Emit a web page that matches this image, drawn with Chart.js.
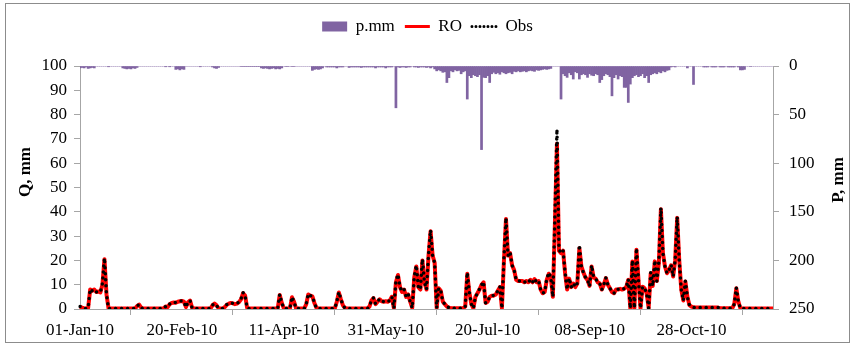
<!DOCTYPE html>
<html>
<head>
<meta charset="utf-8">
<script src="https://cdn.jsdelivr.net/npm/chart.js@4.4.1/dist/chart.umd.min.js"></script>
<style>
  html, body { margin: 0; padding: 0; background: #fff; }
</style>
</head>
<body>
<canvas id="chart" width="855" height="345"></canvas>
<script>
// daily series, 01-Jan-10 .. 07-Dec-10 (341 days)
const startDate = new Date(2010, 0, 1);
const dayCount = 341;
const tickLabels = ["01-Jan-10", "20-Feb-10", "11-Apr-10", "31-May-10", "20-Jul-10", "08-Sep-10", "28-Oct-10"];

// simulated runoff (mm)
const ro = [
  1, 0.5, 0.3, 0.2, 0.5, 8, 7.5, 8, 7, 7.2,
  6.8, 10, 20.5, 6, 0.3, 0.2, 0.2, 0.2, 0.2, 0.2,
  0.2, 0.2, 0.2, 0.2, 0.2, 0.2, 0.2, 0.2, 1.2, 1.8,
  0.6, 0.2, 0.2, 0.2, 0.2, 0.2, 0.2, 0.2, 0.2, 0.2,
  0.2, 0.2, 1, 0.8, 2, 2.5, 2.7, 2.6, 3, 3.2,
  3.3, 3, 0.8, 2.8, 3.5, 0.5, 0.2, 0.2, 0.2, 0.2,
  0.2, 0.2, 0.2, 0.2, 0.2, 1.5, 2.2, 1.5, 0.3, 0.2,
  0.2, 0.8, 1.7, 2.2, 2.5, 2.3, 2, 2.2, 2.8, 4,
  6.5, 5.5, 0.5, 0.2, 0.2, 0.2, 0.2, 0.2, 0.2, 0.2,
  0.2, 0.2, 0.2, 0.2, 0.2, 0.2, 0.2, 0.2, 5.8, 2.5,
  0.3, 0.2, 0.2, 0.2, 4.8, 3, 0.3, 0.2, 0.2, 0.2,
  0.2, 2, 6, 5.5, 5.2, 2.5, 0.5, 0.2, 0.2, 0.2,
  0.2, 0.2, 0.2, 0.2, 0.2, 0.2, 3, 6.8, 4, 1.5,
  0.4, 0.2, 0.2, 0.2, 0.2, 0.2, 0.2, 0.2, 0.2, 0.2,
  0.2, 0.2, 1, 3.5, 4.5, 2, 3, 4, 3.2, 3,
  3.2, 3, 3.5, 5, 0.4, 11, 14, 9, 7, 8,
  5, 6, 3, 0.5, 13, 17.5, 9, 8, 20, 11,
  8, 22, 32, 22, 19, 0.5, 8.5, 7.5, 3, 2,
  1, 0.6, 0.3, 0.3, 0.3, 0.3, 0.3, 0.3, 0.3, 1,
  14.5, 7, 2, 0.3, 5, 6.5, 8, 10, 11, 2.5,
  3, 5, 5.5, 5.5, 6, 7.5, 9, 0.4, 20, 37,
  22, 23, 18, 16, 12, 11.5, 11.5, 11.5, 11, 11.5,
  11, 12, 11, 12.3, 11, 11.5, 8, 6.5, 7, 12,
  14.5, 13, 5, 35, 68, 24, 23, 24, 14.7, 8,
  12.5, 9, 10.5, 9, 10.5, 25, 17.5, 15, 13, 12,
  9.5, 17.5, 13, 12.5, 11, 10.5, 8, 10, 12.7, 10,
  8.5, 7, 6.5, 8, 8, 8.3, 8, 8.3, 9, 12,
  0.4, 19.5, 0.5, 24.4, 12, 0.4, 9.2, 8.5, 6.5, 0.4,
  14.7, 9.5, 19.6, 11.5, 19, 41, 23, 17.5, 14.7, 16,
  18, 13.4, 20, 37.5, 20, 8, 3.5, 11.3, 5, 1.6,
  1, 0.7, 0.6, 0.6, 0.6, 0.6, 0.6, 0.6, 0.6, 0.6,
  0.6, 0.6, 0.6, 0.6, 0.3, 0.3, 0.3, 0.3, 0.3, 0.3,
  0.3, 2, 8.5, 3, 0.3, 0.2, 0.2, 0.2, 0.2, 0.2,
  0.2, 0.2, 0.2, 0.2, 0.2, 0.2, 0.2, 0.2, 0.2, 0.2, 0.2
];

// observed runoff (mm)
const obs = [
  1, 0.5, 0.2, 0.2, 0.5, 8.2, 7.5, 8, 7, 7,
  7, 10.5, 21, 6, 0.2, 0.2, 0.2, 0.2, 0.2, 0.2,
  0.2, 0.2, 0.2, 0.2, 0.2, 0.2, 0.2, 0.2, 1.3, 1.8,
  0.5, 0.2, 0.2, 0.2, 0.2, 0.2, 0.2, 0.2, 0.2, 0.2,
  0.2, 0.2, 1, 0.8, 2, 2.6, 2.7, 2.7, 3, 3.2,
  3.4, 3, 0.7, 2.9, 3.5, 0.4, 0.2, 0.2, 0.2, 0.2,
  0.2, 0.2, 0.2, 0.2, 0.2, 1.6, 2.2, 1.4, 0.3, 0.2,
  0.2, 0.8, 1.8, 2.2, 2.5, 2.3, 2, 2.3, 2.8, 4.2,
  6.8, 5.5, 0.4, 0.2, 0.2, 0.2, 0.2, 0.2, 0.2, 0.2,
  0.2, 0.2, 0.2, 0.2, 0.2, 0.2, 0.2, 0.2, 6, 2.5,
  0.3, 0.2, 0.2, 0.2, 5, 3, 0.3, 0.2, 0.2, 0.2,
  0.2, 2, 6.2, 5.5, 5.3, 2.5, 0.4, 0.2, 0.2, 0.2,
  0.2, 0.2, 0.2, 0.2, 0.2, 0.2, 3, 7, 4, 1.5,
  0.4, 0.2, 0.2, 0.2, 0.2, 0.2, 0.2, 0.2, 0.2, 0.2,
  0.2, 0.2, 1, 3.6, 4.6, 2, 3, 4.1, 3.2, 3,
  3.2, 3, 3.6, 5, 0.3, 11.5, 14.3, 9, 7.2, 8,
  5, 6.2, 3, 0.4, 13.5, 18, 9, 8, 20.5, 11,
  8, 22.5, 32.5, 22, 19, 0.4, 8.7, 7.5, 3, 2,
  1, 0.6, 0.3, 0.3, 0.3, 0.3, 0.3, 0.3, 0.3, 1,
  15, 7, 2, 0.3, 5, 6.5, 8.2, 10, 11.2, 2.4,
  3, 5, 5.5, 5.6, 6, 7.6, 9.2, 0.3, 21, 37.5,
  22, 23.5, 18, 16, 12, 11.5, 11.6, 11.5, 11, 11.6,
  11, 12.2, 11, 12.5, 11, 11.5, 8, 6.5, 7, 12.3,
  15, 13, 5, 38, 74, 24.5, 23, 24, 15, 8,
  12.7, 9, 10.6, 9, 10.6, 26.4, 17.5, 15, 13, 12,
  9.3, 18, 13, 12.5, 11, 10.6, 8, 10, 12.8, 10,
  8.5, 7, 6.5, 8, 8.1, 8.3, 8, 8.4, 9, 12.2,
  0.3, 20, 0.4, 25, 12, 0.3, 9.2, 8.5, 6.5, 0.3,
  15, 9.5, 20, 11.5, 19.5, 41.6, 23, 17.5, 14.7, 16,
  18.2, 13.4, 20, 38, 20, 8, 3.5, 11.5, 5, 1.6,
  1, 0.7, 0.6, 0.6, 0.6, 0.6, 0.6, 0.6, 0.6, 0.6,
  0.6, 0.6, 0.6, 0.6, 0.3, 0.3, 0.3, 0.3, 0.3, 0.3,
  0.3, 2, 8.8, 3, 0.3, 0.2, 0.2, 0.2, 0.2, 0.2,
  0.2, 0.2, 0.2, 0.2, 0.2, 0.2, 0.2, 0.2, 0.2, 0.2, 0.2
];

// precipitation (mm), right axis, hanging from the top
const pmm = [
  2, 1.5, 2, 1, 2.5, 2, 1.5, 2, 0, 0,
  0, 0, 0, 0, 0.8, 0, 0, 0, 0, 0,
  0, 2, 2.5, 3, 2.5, 3, 2, 2.5, 1.5, 0,
  0, 0, 0, 0, 0, 0, 0, 0, 0, 0,
  0, 0, 0.8, 0, 0.8, 0, 0, 3.5, 3, 4,
  3, 3.5, 0, 0, 0, 0, 0, 0, 0, 0.8,
  0, 0, 0, 0, 0, 1, 2, 2.5, 1.5, 0,
  0, 0, 0, 0, 0, 0, 0, 0, 0, 0.5,
  0.5, 0.5, 0.5, 0.5, 0.5, 0.5, 0.5, 0.5, 0.5, 2,
  2.5, 2, 2.5, 3, 2.5, 2, 3, 2.5, 3, 2,
  0, 0.5, 0.5, 0, 0.5, 0.5, 0, 0, 0, 0,
  0, 0, 0, 0, 4.5, 3.5, 3, 3.5, 3, 2,
  0, 1, 1, 1, 1, 1, 2, 1, 1, 1,
  0, 0, 1.5, 1, 1, 1, 1, 1, 1.5, 1,
  1, 1, 1, 1, 1, 2, 1, 1, 1, 1,
  2, 1, 1, 1, 0, 43, 1, 1.5, 1, 1,
  1.5, 1, 1, 0, 1, 1, 1.5, 1, 1, 1,
  1.5, 1, 2, 1, 3, 5, 4, 5, 6.5, 6,
  17, 12, 5, 6, 4, 5, 4.5, 8, 6, 5,
  34, 10, 12, 9, 10, 11, 9, 86, 11.7, 12,
  10, 17, 8, 6.5, 8, 7, 8.5, 6, 7, 8,
  7, 6.5, 8, 5.5, 6, 5, 6, 5.5, 5, 6,
  5, 4.5, 5, 5.5, 4, 4.5, 4, 3.5, 3, 3.5,
  3, 2.5, 0, 0, 0, 0, 34, 8, 10, 11.7,
  7, 9, 13.4, 6, 7, 13.4, 9, 8, 9, 11.7,
  8, 9.5, 10, 8, 9, 17, 14, 10, 8, 9,
  11, 30.7, 12, 9, 13.4, 10, 11, 22, 22, 37.5,
  18.6, 12, 10, 9, 11, 10, 8, 12, 10, 17,
  9, 8, 7, 8, 6, 7, 5, 6, 4.5, 4,
  1, 0.5, 1, 0, 0, 0, 0, 0, 2, 0,
  0, 19, 0, 0, 0, 0, 1, 1, 1, 0,
  1, 1, 1, 0, 1, 1, 1, 0, 1, 1,
  1, 1, 0, 1, 4, 4, 3.5, 0, 0, 0.5,
  0, 0, 0, 0, 0, 0, 0, 0, 0, 0, 0
];

const months = ["Jan","Feb","Mar","Apr","May","Jun","Jul","Aug","Sep","Oct","Nov","Dec"];
const dates = [];
for (let i = 0; i < dayCount; i++) {
  const d = new Date(startDate.getTime() + i * 86400000);
  dates.push(String(d.getDate()).padStart(2, "0") + "-" + months[d.getMonth()] + "-10");
}

const serif = '"Liberation Serif", "Times New Roman", serif';
const axisGray = "#a6a6a6";

// extra room under the legend
const legendGap = {
  id: "legendGap",
  beforeInit(chart) {
    const fit = chart.legend.fit;
    chart.legend.fit = function () {
      fit.bind(chart.legend)();
      this.height += 21;
    };
  }
};

// frame + axis titles (the right title reads bottom-to-top like the left one)
const extras = {
  id: "extras",
  beforeDraw(chart) {
    const ctx = chart.ctx;
    ctx.save();
    ctx.strokeStyle = "#8c8c8c";
    ctx.lineWidth = 1;
    ctx.strokeRect(5.5, 3.5, 844, 339);
    ctx.restore();
  },
  afterDraw(chart) {
    const ctx = chart.ctx;
    ctx.save();
    ctx.fillStyle = "#000";
    ctx.font = "bold 17px " + serif;
    ctx.textAlign = "center";
    ctx.textBaseline = "middle";
    ctx.translate(26, 172);
    ctx.rotate(-Math.PI / 2);
    ctx.fillText("Q, mm", 0, 0);
    ctx.restore();
    ctx.save();
    ctx.fillStyle = "#000";
    ctx.font = "bold 17px " + serif;
    ctx.textAlign = "center";
    ctx.textBaseline = "middle";
    ctx.translate(839, 180);
    ctx.rotate(-Math.PI / 2);
    ctx.fillText("P, mm", 0, 0);
    ctx.restore();
  }
};

new Chart(document.getElementById("chart"), {
  data: {
    labels: dates,
    datasets: [
      {
        type: "bar",
        label: "p.mm",
        data: pmm,
        yAxisID: "yP",
        backgroundColor: "#8064a2",
        barPercentage: 1,
        categoryPercentage: 1,
        order: 3
      },
      {
        type: "line",
        label: "RO",
        data: ro,
        yAxisID: "y",
        borderColor: "#ff0000",
        borderWidth: 4,
        borderJoinStyle: "round",
        pointRadius: 0,
        tension: 0,
        order: 2
      },
      {
        type: "line",
        label: "Obs",
        data: obs,
        yAxisID: "y",
        borderColor: "#000000",
        borderWidth: 3.5,
        borderDash: [0, 6],
        borderCapStyle: "round",
        pointRadius: 0,
        tension: 0,
        order: 1
      }
    ]
  },
  options: {
    responsive: false,
    animation: false,
    layout: { padding: { top: 8, left: 0, right: 0, bottom: 0 } },
    plugins: {
      tooltip: { enabled: false },
      legend: {
        position: "top",
        labels: {
          font: { family: serif, size: 17 },
          color: "#000",
          usePointStyle: true,
          pointStyleWidth: 25,
          boxHeight: 10,
          padding: 10,
          generateLabels: () => [
            { text: "p.mm", datasetIndex: 0, pointStyle: "rect", fillStyle: "#8064a2", strokeStyle: "#8064a2", lineWidth: 0 },
            { text: "RO", datasetIndex: 1, pointStyle: "line", fillStyle: "#ff0000", strokeStyle: "#ff0000", lineWidth: 3 },
            { text: "Obs", datasetIndex: 2, pointStyle: "line", fillStyle: "#000", strokeStyle: "#000", lineWidth: 3, lineDash: [0, 4], lineCap: "round" }
          ]
        }
      }
    },
    scales: {
      x: {
        type: "category",
        offset: false,
        grid: { display: true, drawOnChartArea: false, drawTicks: true, tickLength: 6, color: axisGray },
        border: { display: true, color: axisGray },
        afterBuildTicks: (s) => { s.ticks = s.ticks.filter(t => t.value % 50 === 0); },
        ticks: {
          autoSkip: false,
          maxRotation: 0,
          padding: 5,
          color: "#000",
          font: { family: serif, size: 17 },
          callback: (v) => tickLabels[v / 50]
        },
        afterFit: (s) => { s.height = 36; }
      },
      y: {
        position: "left",
        min: 0,
        max: 100,
        grid: { display: true, drawOnChartArea: false, tickLength: 6, color: axisGray },
        border: { display: true, color: axisGray },
        ticks: { stepSize: 10, padding: 7, color: "#000", font: { family: serif, size: 17 } },
        afterFit: (s) => { s.width = 80; }
      },
      yP: {
        position: "right",
        reverse: true,
        min: 0,
        max: 250,
        grid: { display: true, drawOnChartArea: false, tickLength: 6, color: axisGray },
        border: { display: true, color: axisGray },
        ticks: { stepSize: 50, padding: 10, color: "#000", font: { family: serif, size: 17 } },
        afterFit: (s) => { s.width = 82; }
      }
    }
  },
  plugins: [legendGap, extras]
});
</script>
</body>
</html>
